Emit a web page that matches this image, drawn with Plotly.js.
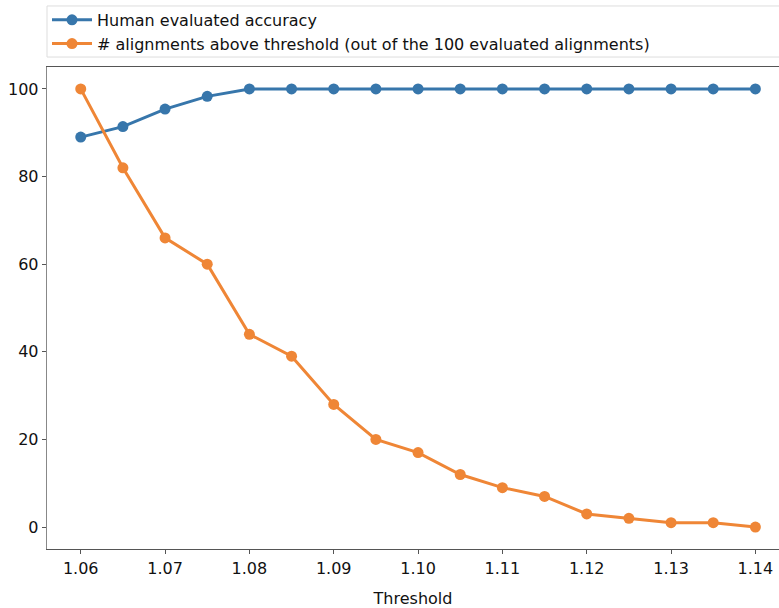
<!DOCTYPE html>
<html>
<head>
<meta charset="utf-8">
<script src="https://cdn.plot.ly/plotly-3.0.1.min.js"></script>
<style>html,body{margin:0;padding:0;background:#fff;}#chart{width:779px;height:608px;}</style>
</head>
<body>
<div id="chart"></div>
<script>
const thresholds = [1.06,1.065,1.07,1.075,1.08,1.085,1.09,1.095,1.10,1.105,1.11,1.115,1.12,1.125,1.13,1.135,1.14];
const accuracy = [89,91.4,95.4,98.3,100,100,100,100,100,100,100,100,100,100,100,100,100];
const alignments = [100,82,66,60,44,39,28,20,17,12,9,7,3,2,1,1,0];
const xTickVals = [1.06,1.07,1.08,1.09,1.10,1.11,1.12,1.13,1.14];
const xTickText = ["1.06","1.07","1.08","1.09","1.10","1.11","1.12","1.13","1.14"];
const yTickVals = [0,20,40,60,80,100];

const traces = [
  {x: thresholds, y: accuracy, mode: 'lines+markers', name: 'Human evaluated accuracy',
   line: {color: '#3776ab', width: 3}, marker: {color: '#3776ab', size: 11}},
  {x: thresholds, y: alignments, mode: 'lines+markers', name: '# alignments above threshold (out of the 100 evaluated alignments)',
   line: {color: '#ef8636', width: 3}, marker: {color: '#ef8636', size: 11}}
];

const layout = {
  width: 779, height: 608,
  margin: {l: 47, r: 0, t: 67, b: 59, autoexpand: false},
  paper_bgcolor: '#fff', plot_bgcolor: '#fff',
  font: {family: 'DejaVu Sans, sans-serif', size: 16, color: '#111'},
  showlegend: true,
  legend: {x: 0, y: 1.133, xanchor: 'left', yanchor: 'top', xref: 'paper', yref: 'paper',
    bgcolor: 'rgba(0,0,0,0)', borderwidth: 0,
    font: {size: 16, color: '#111'}, tracegroupgap: 0, itemwidth: 40},
  shapes: [
    {type: 'rect', xref: 'paper', yref: 'paper', x0: 0, x1: 1.02, y0: 1.0207, y1: 1.1266,
     line: {color: '#ddd', width: 1}, fillcolor: 'rgba(0,0,0,0)', layer: 'below'}
  ],
  xaxis: {range: [1.056, 1.1428], tickvals: xTickVals, ticktext: xTickText,
    showgrid: false, zeroline: false, showline: true, mirror: true, linecolor: '#555', linewidth: 1.3,
    ticks: 'outside', ticklen: 4, tickcolor: '#555',
    title: {text: 'Threshold', font: {size: 16}, standoff: 20}},
  yaxis: {range: [-5, 105], tickvals: yTickVals,
    showgrid: false, zeroline: false, showline: true, linecolor: '#888', linewidth: 1.3,
    ticks: 'outside', ticklen: 4, tickcolor: '#555'}
};

Plotly.newPlot('chart', traces, layout, {displayModeBar: false, staticPlot: true});
</script>
</body>
</html>
